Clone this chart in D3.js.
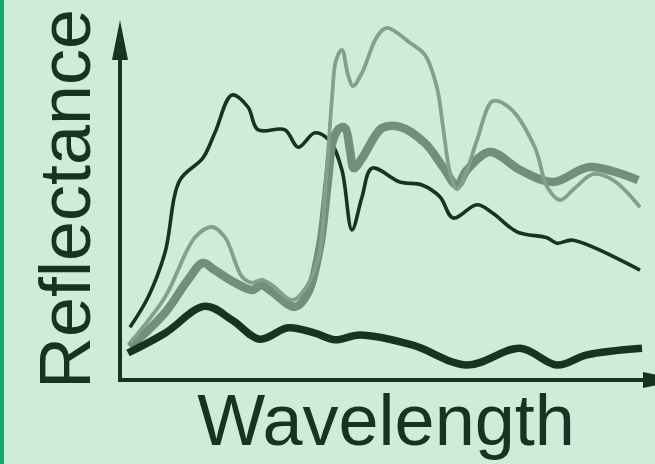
<!DOCTYPE html>
<html>
<head>
<meta charset="utf-8">
<script src="https://cdn.jsdelivr.net/npm/d3@7"></script>
<style>
  html, body { margin: 0; padding: 0; background: #d1ebdb; }
  svg { display: block; }
</style>
</head>
<body>
<div id="chart"></div>
<script>
// wavelength (nm) / reflectance (%)
const thinDarkWl = [408, 482, 551, 612, 706, 755, 825, 890, 931, 1041, 1095, 1164, 1225, 1274, 1315, 1356, 1397, 1511, 1601, 1675, 1728, 1826, 1891, 1989, 2112, 2153, 2218, 2492];
const thinDarkR = [8.8, 13.8, 21.2, 33.3, 37.0, 41.2, 47.5, 45.5, 41.7, 41.7, 38.8, 41.2, 39.8, 35.0, 25.0, 30.5, 35.3, 33.0, 32.5, 30.5, 27.0, 29.2, 27.8, 24.7, 23.7, 22.8, 23.3, 18.3];

const thinLightWl = [408, 551, 674, 743, 796, 866, 907, 947, 988, 1070, 1111, 1176, 1209, 1233, 1250, 1274, 1299, 1319, 1356, 1417, 1458, 1552, 1613, 1662, 1687, 1716, 1744, 1785, 1826, 1891, 1961, 2063, 2112, 2165, 2226, 2300, 2382, 2492];
const thinLightR = [6.2, 13.8, 23.8, 25.5, 23.8, 17.2, 16.2, 16.7, 15.8, 13.3, 14.5, 20.0, 33.3, 46.7, 53.3, 55.0, 50.8, 49.0, 51.2, 57.2, 58.7, 56.2, 54.2, 48.8, 42.2, 34.5, 31.8, 35.0, 40.0, 46.5, 45.3, 38.7, 32.2, 30.0, 32.0, 34.3, 33.3, 28.8];

const thickGreyWl = [408, 551, 645, 706, 755, 837, 907, 947, 988, 1082, 1135, 1184, 1217, 1238, 1266, 1287, 1307, 1323, 1360, 1438, 1511, 1613, 1687, 1744, 1785, 1879, 2002, 2136, 2288, 2484];
const thickGreyR = [5.5, 11.2, 16.7, 19.5, 18.3, 16.2, 15.0, 15.8, 14.7, 12.2, 14.5, 22.2, 33.3, 40.0, 42.0, 42.0, 38.3, 35.3, 37.2, 42.0, 42.2, 39.5, 35.5, 32.5, 35.0, 38.0, 35.0, 33.0, 35.5, 33.3];

const thickDarkWl = [400, 551, 715, 825, 939, 1054, 1164, 1246, 1348, 1564, 1785, 2002, 2153, 2275, 2500];
const thickDarkR = [4.5, 7.8, 12.3, 10.0, 6.8, 8.7, 7.8, 6.7, 7.5, 5.8, 2.5, 5.3, 2.5, 4.2, 5.3];

const yTitle = "Reflectance";
const xTitle = "Wavelength";

const width = 655, height = 464;
const margin = { top: 20, right: 13, bottom: 84, left: 128 };
const ink = "#163422";

const svg = d3.select("#chart").append("svg")
  .attr("width", width)
  .attr("height", height);

svg.append("rect").attr("width", width).attr("height", height).attr("fill", "#d1ebdb");
// green edge on the left
svg.append("rect").attr("x", 0).attr("y", 0).attr("width", 4).attr("height", height).attr("fill", "#17a86b");

const x = d3.scaleLinear().domain([400, 2500]).range([margin.left, width - margin.right]);
const y = d3.scaleLinear().domain([0, 60]).range([height - margin.bottom, margin.top]);

const line = d3.line()
  .x(d => x(d[0]))
  .y(d => y(d[1]))
  .curve(d3.curveCatmullRom.alpha(0.5));

const series = [
  { wl: thinDarkWl, r: thinDarkR, color: ink, w: 3.6 },
  { wl: thickGreyWl, r: thickGreyR, color: "#6f907d", w: 8.5 },
  { wl: thinLightWl, r: thinLightR, color: "#80a18e", w: 3.8 },
  { wl: thickDarkWl, r: thickDarkR, color: ink, w: 7.5 }
];

svg.append("g").selectAll("path")
  .data(series)
  .join("path")
  .attr("d", s => line(d3.zip(s.wl, s.r)))
  .attr("fill", "none")
  .attr("stroke", s => s.color)
  .attr("stroke-width", s => s.w)
  .attr("stroke-linejoin", "round")
  .attr("stroke-linecap", "butt");

// axes: plain lines with arrow heads, no ticks
const ax = 120, ay = y(0);
const axes = svg.append("g").attr("stroke", ink).attr("fill", ink);
axes.append("line").attr("x1", ax).attr("x2", ax).attr("y1", ay + 2).attr("y2", 50).attr("stroke-width", 4);
axes.append("path").attr("d", `M${ax - 8},60 L${ax},20 L${ax + 8},60 Z`).attr("stroke", "none");
axes.append("line").attr("x1", ax - 2).attr("x2", 650).attr("y1", ay).attr("y2", ay).attr("stroke-width", 4);
axes.append("path").attr("d", `M643,${ay - 8} L683,${ay} L643,${ay + 8} Z`).attr("stroke", "none");

svg.append("text")
  .attr("transform", `translate(90,199) rotate(-90)`)
  .attr("text-anchor", "middle")
  .attr("fill", ink)
  .style("font-family", "'Liberation Sans', Arial, sans-serif")
  .style("font-size", "72px")
  .text(yTitle);

svg.append("text")
  .attr("x", 386)
  .attr("y", 445)
  .attr("text-anchor", "middle")
  .attr("fill", ink)
  .style("font-family", "'Liberation Sans', Arial, sans-serif")
  .style("font-size", "72px")
  .text(xTitle);
</script>
</body>
</html>
